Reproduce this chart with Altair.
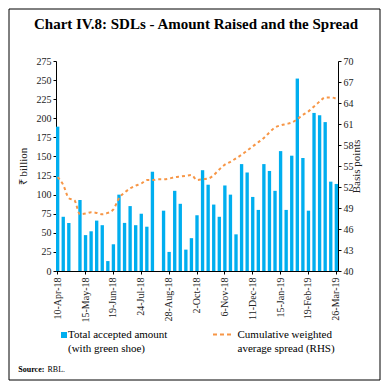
import altair as alt
import pandas as pd

# ---- data -------------------------------------------------------------
weeks = [f"{d.day}-{d.strftime('%b-%y')}" for d in pd.date_range("2018-04-10", periods=51, freq="7D")]

amount = [189, 71, 63, None, 93, 47, 52, 66, 60, 13,
          35, 100, 63, 85, 60, 75, 58, 130, None, 79,
          25, 105, 88, 28, 43, 73, 132, 113, 87, 71,
          112, 100, 48, 140, 129, 97, 80, 140, 131, 105,
          157, 80, 151, 252, 148, 79, 207, 204, 195, 117,
          114]

spread = [53.4, 52.3, 50.4, 50.1, 48.1, 48.2, 48.4, 48.3, 48.1, 48.3,
          48.8, 50.4, 51.2, 51.8, 52.2, 52.5, 53.0, 53.0, 53.1, 53.1,
          53.2, 53.4, 53.5, 53.6, 53.7, 53.0, 53.1, 53.2, 53.7, 54.5,
          55.2, 55.6, 56.1, 56.6, 57.2, 57.8, 58.4, 59.0, 59.8, 60.5,
          60.8, 61.0, 61.2, 61.7, 62.3, 62.8, 63.5, 64.2, 64.8, 64.8,
          64.6]

tick_labels = ["10-Apr-18", "15-May-18", "19-Jun-18", "24-Jul-18", "28-Aug-18",
               "2-Oct-18", "6-Nov-18", "11-Dec-18", "15-Jan-19", "19-Feb-19", "26-Mar-19"]

left_ticks = list(range(0, 276, 25))
right_ticks = list(range(40, 71, 3))

df = pd.DataFrame({"week": weeks, "amount": amount, "spread": spread})
one = pd.DataFrame({"a": [0]})

FONT = "Liberation Serif"
BLUE = "#00AEEF"
ORANGE = "#F79646"

x_enc = alt.X(
    "week:O",
    sort=None,
    scale=alt.Scale(domain=weeks, paddingInner=0.4, paddingOuter=0),
    axis=alt.Axis(values=tick_labels, labelAngle=270, title=None, labelPadding=3),
)

bars = alt.Chart(df).mark_bar(color=BLUE).encode(
    x=x_enc,
    y=alt.Y("amount:Q", scale=alt.Scale(domain=[0, 275]),
            axis=alt.Axis(values=left_ticks, orient="left", title="₹ billion",
                          titlePadding=8)),
)

line = alt.Chart(df).mark_line(color=ORANGE, strokeDash=[3, 3], strokeWidth=2,
                               interpolate="monotone").encode(
    x=x_enc,
    y=alt.Y("spread:Q", scale=alt.Scale(domain=[40, 70], zero=False),
            axis=alt.Axis(values=right_ticks, orient="right", title="Basis points",
                          titleAngle=270, titlePadding=8)),
)


def txt(s, x, y, size=11, weight="normal", align="left"):
    return alt.Chart(one).mark_text(
        text=s, font=FONT, fontSize=size, fontWeight=weight, align=align,
        baseline="alphabetic", color="black",
    ).encode(x=alt.value(x), y=alt.value(y))


frame = alt.Chart(one).mark_rect(fillOpacity=0, stroke="black", strokeWidth=1).encode(
    x=alt.value(-47), x2=alt.value(324), y=alt.value(-52), y2=alt.value(319)
)

leg_sq = alt.Chart(one).mark_rect(color=BLUE).encode(
    x=alt.value(5), x2=alt.value(11), y=alt.value(271), y2=alt.value(277)
)
leg_dash = alt.Chart(one).mark_rule(color=ORANGE, strokeDash=[4, 3], strokeWidth=2).encode(
    x=alt.value(157), x2=alt.value(177), y=alt.value(273.5)
)

annotations = [
    txt("Chart IV.8: SDLs - Amount Raised and the Spread", 140, -32.5, size=15,
        weight="bold", align="center"),
    txt("Total accepted amount", 12, 277.3),
    txt("(with green shoe)", 12, 291.3),
    txt("Cumulative weighted", 181.5, 277.3),
    txt("average spread (RHS)", 181.5, 291.3),
    txt("Source:", -37.7, 310.7, size=8, weight="bold"),
    txt("RBL.", -8.5, 310.7, size=8),
]

chart = alt.layer(frame, bars, line, leg_sq, leg_dash, *annotations).resolve_scale(
    y="independent"
).properties(
    width=282,
    height=210,
    padding={"left": 48, "top": 53, "right": 45, "bottom": 112},
    autosize=alt.AutoSizeParams(type="none"),
).configure_view(stroke=None).configure_axis(
    grid=False,
    domainColor="black",
    tickColor="black",
    tickSize=3,
    labelFont=FONT,
    labelFontSize=10,
    labelColor="#222222",
    titleFont=FONT,
    titleFontSize=11,
    titleFontWeight="normal",
    titleColor="#222222",
)

chart.save("out.html", embed_options={"renderer": "svg", "actions": False})
